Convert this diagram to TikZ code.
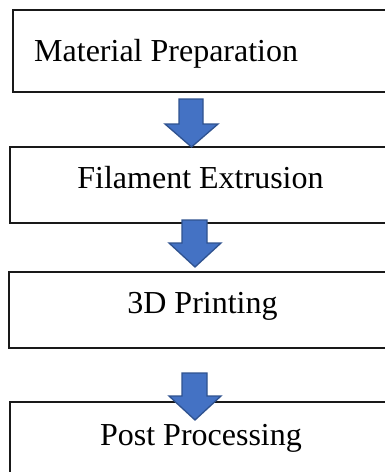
\documentclass[tikz,border=0pt]{standalone}
\usepackage{fontspec}
\setmainfont{Liberation Serif}
\begin{document}
\begin{tikzpicture}[x=1pt,y=-1pt,
  stagebox/.style={draw=black!90, line width=2pt, fill=white, rectangle, anchor=north west, inner sep=0pt, outer sep=0pt},
  lbl/.style={inner sep=0pt, font=\fontsize{32}{38}\selectfont},
  blockarrow/.style={fill={rgb,255:red,68;green,114;blue,196}, draw={rgb,255:red,47;green,82;blue,143}, line width=1.3pt, line join=miter}]
\clip (0,0) rectangle (385,472);
\fill[white] (0,0) rectangle (385,472);

% process stages (boxes run off the right edge)
\node[stagebox, minimum width=400pt, minimum height=82pt] (s1) at (13,10) {};
\node[stagebox, minimum width=400pt, minimum height=76pt] (s2) at (10,146.5) {};
\node[stagebox, minimum width=400pt, minimum height=76pt] (s3) at (9,272) {};
\node[stagebox, minimum width=400pt, minimum height=90pt] (s4) at (10,402) {};

% stage titles
\node[lbl, anchor=base west] (t1) at (34,61) {Material Preparation};
\node[lbl, anchor=base] (t2) at (200.5,188) {Filament Extrusion};
\node[lbl, anchor=base] (t3) at (202.5,313) {3D Printing};
\node[lbl, anchor=base] (t4) at (201,445) {Post Processing};

% downward block arrows between stages
\draw[blockarrow] (179,99) -- (203,99) -- (203,124) -- (218,124) -- (191.5,147) -- (165,124) -- (179,124) -- cycle;
\draw[blockarrow] (182,220) -- (207,220) -- (207,243) -- (221,243) -- (195,267) -- (169,243) -- (182,243) -- cycle;
\draw[blockarrow] (182,373) -- (207,373) -- (207,396) -- (221,396) -- (195,420) -- (169,396) -- (182,396) -- cycle;
\end{tikzpicture}
\end{document}
